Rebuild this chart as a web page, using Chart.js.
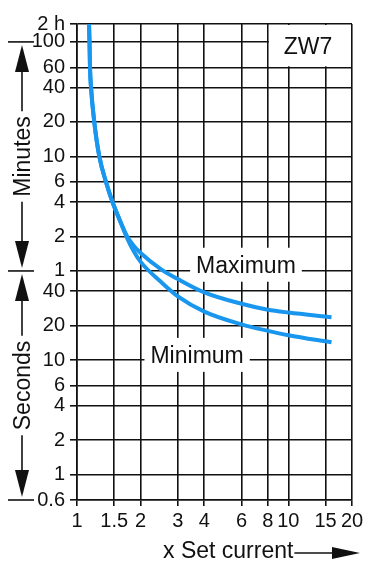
<!DOCTYPE html>
<html><head><meta charset="utf-8">
<script src="https://cdn.jsdelivr.net/npm/chart.js@4.4.1/dist/chart.umd.min.js"></script>
<style>html,body{margin:0;padding:0;background:#fff}#wrap{width:376px;height:580px;position:relative}</style>
</head><body><div id="wrap"><canvas id="c" width="376" height="580"></canvas></div>
<script>
// ---- data ----
const xTickValues = [1, 1.5, 2, 3, 4, 6, 8, 10, 15, 20];          // x Set current
const xTickLabels = ['1', '1.5', '2', '3', '4', '6', '8', '10', '15', '20'];
const yTopSeconds = 8600;                                          // top edge of the chart, labelled "2 h"
const yTickValues = [yTopSeconds, 6000, 3600, 2400, 1200, 600, 360, 240, 120, 60, 40, 20, 10, 6, 4, 2, 1, 0.6]; // seconds
const yTickLabels = ['2 h', '100', '60', '40', '20', '10', '6', '4', '2', '1', '40', '20', '10', '6', '4', '2', '1', '0.6'];

// common upper branch (both curves coincide)
const sharedCurrent = [1.140, 1.146, 1.152, 1.165, 1.207, 1.275, 1.371, 1.472, 1.597];
const sharedTime    = [8600, 6000, 3600, 2400, 1200, 600, 360, 240, 165];
// Maximum branch
const maxCurrent = [1.72, 1.85, 2, 2.5, 3, 4, 6, 8, 10, 16];
const maxTime    = [122, 100, 86, 62, 51, 39, 31, 27.5, 26, 23.7];
// Minimum branch
const minCurrent = [1.72, 1.85, 2, 2.5, 3, 4, 6, 8, 10, 16];
const minTime    = [118, 90, 72, 48, 36, 26.5, 20.5, 18, 16.5, 14.3];

const seriesNames = ['Maximum', 'Minimum'];
const chartTag = 'ZW7';

// ---- build ----
function pts(xs, ys) { return xs.map((v, i) => ({ x: v, y: ys[i] })); }
const maxData = pts(sharedCurrent, sharedTime).concat(pts(maxCurrent, maxTime));
const minData = pts(sharedCurrent, sharedTime).concat(pts(minCurrent, minTime));

const BLUE = '#1996ee';
const INK = '#111';
const TICK_FONT = "'Liberation Sans', Arial, sans-serif";
const TEXT_FONT = "'Liberation Sans', Arial, sans-serif";

function whiteLabel(ctx, text, cx, cy, padX, halfH) {
  ctx.font = '23px ' + TEXT_FONT;
  const w = ctx.measureText(text).width;
  ctx.fillStyle = '#fff';
  ctx.fillRect(cx - w / 2 - padX, cy - halfH, w + 2 * padX, 2 * halfH);
  ctx.fillStyle = INK;
  ctx.textAlign = 'center';
  ctx.textBaseline = 'alphabetic';
  ctx.fillText(text, cx, cy + 8.3);
}

function arrowHead(ctx, x, tipY, baseY, half) {
  ctx.beginPath();
  ctx.moveTo(x, tipY);
  ctx.lineTo(x - half, baseY);
  ctx.lineTo(x + half, baseY);
  ctx.closePath();
  ctx.fill();
}

const deco = {
  id: 'deco',
  beforeDatasetsDraw(chart) {
    const { ctx, scales: { x, y } } = chart;
    ctx.save();
    // ZW7 box
    const bx0 = x.getPixelForValue(8) + 1, bx1 = x.getPixelForValue(20) - 1;
    const by0 = y.getPixelForValue(yTopSeconds) + 1, by1 = y.getPixelForValue(3600) - 1;
    ctx.fillStyle = '#fff';
    ctx.fillRect(bx0, by0, bx1 - bx0, by1 - by0);
    ctx.fillStyle = INK;
    ctx.font = '23px ' + TEXT_FONT;
    ctx.textAlign = 'center';
    ctx.textBaseline = 'alphabetic';
    ctx.fillText(chartTag, (bx0 + bx1) / 2 - 2, (by0 + by1) / 2 + 8.3);
    // series labels
    whiteLabel(ctx, seriesNames[0], x.getPixelForValue(6.3), y.getPixelForValue(68), 6, 17);
    whiteLabel(ctx, seriesNames[1], x.getPixelForValue(3.7), y.getPixelForValue(11.1), 6, 17);
    ctx.restore();
  },
  afterDraw(chart) {
    const { ctx, scales: { x, y } } = chart;
    ctx.save();
    ctx.strokeStyle = INK; ctx.fillStyle = INK; ctx.lineWidth = 1.6;
    const ax = 22;
    const yTop = y.getPixelForValue(6000), yMid = y.getPixelForValue(60), yBot = y.getPixelForValue(0.6);
    // bars
    [yTop, yMid, yBot].forEach(v => { ctx.beginPath(); ctx.moveTo(8, v); ctx.lineTo(34, v); ctx.stroke(); });
    ctx.font = '23px ' + TEXT_FONT;
    const section = (a, b, label) => {
      const c = (a + b) / 2;
      const w = ctx.measureText(label).width;
      arrowHead(ctx, ax, a + 3, a + 30, 7);
      arrowHead(ctx, ax, b - 3, b - 30, 7);
      ctx.beginPath(); ctx.moveTo(ax, a + 29); ctx.lineTo(ax, c - w / 2 - 5); ctx.stroke();
      ctx.beginPath(); ctx.moveTo(ax, c + w / 2 + 5); ctx.lineTo(ax, b - 29); ctx.stroke();
      ctx.save();
      ctx.translate(ax + 8, c);
      ctx.rotate(-Math.PI / 2);
      ctx.textAlign = 'center'; ctx.textBaseline = 'alphabetic';
      ctx.fillText(label, 0, 0);
      ctx.restore();
    };
    section(yTop, yMid, 'Minutes');
    section(yMid, yBot, 'Seconds');
    // x axis title
    ctx.textAlign = 'left'; ctx.textBaseline = 'alphabetic';
    const title = 'x Set current';
    ctx.fillText(title, 163, 558);
    const tw = ctx.measureText(title).width;
    ctx.beginPath(); ctx.moveTo(163 + tw + 1, 553); ctx.lineTo(334, 553); ctx.stroke();
    ctx.beginPath(); ctx.moveTo(360, 553); ctx.lineTo(332, 547); ctx.lineTo(332, 559); ctx.closePath(); ctx.fill();
    ctx.restore();
  }
};

new Chart(document.getElementById('c'), {
  type: 'line',
  data: {
    datasets: [
      { label: seriesNames[0], data: maxData, borderColor: BLUE, borderWidth: 4, pointRadius: 0, cubicInterpolationMode: 'monotone', fill: false },
      { label: seriesNames[1], data: minData, borderColor: BLUE, borderWidth: 4, pointRadius: 0, cubicInterpolationMode: 'monotone', fill: false }
    ]
  },
  options: {
    responsive: false,
    animation: false,
    devicePixelRatio: 1,
    layout: { padding: { top: 24, right: 24, left: 0, bottom: 0 } },
    plugins: { legend: { display: false }, tooltip: { enabled: false } },
    scales: {
      x: {
        type: 'logarithmic', min: 1, max: 20,
        afterBuildTicks: s => { s.ticks = xTickValues.map(v => ({ value: v })); },
        afterFit: s => { s.height = 80; },
        ticks: { autoSkip: false, maxRotation: 0, color: INK, padding: 3, font: { family: TICK_FONT, size: 20 },
                 callback: (v, i) => xTickLabels[i] },
        grid: { color: INK, lineWidth: 1.6, tickLength: 6, drawTicks: true },
        border: { color: INK, width: 1.6 }
      },
      y: {
        type: 'logarithmic', min: 0.6, max: yTopSeconds,
        afterBuildTicks: s => { s.ticks = yTickValues.map(v => ({ value: v })); },
        afterFit: s => { s.width = 77; },
        ticks: { autoSkip: false, color: INK, padding: 5, font: { family: TICK_FONT, size: 20 },
                 callback: (v, i) => yTickLabels[i] },
        grid: { color: INK, lineWidth: 1.6, tickLength: 7, drawTicks: true },
        border: { color: INK, width: 1.6 }
      }
    }
  },
  plugins: [deco]
});
</script>
</body></html>
